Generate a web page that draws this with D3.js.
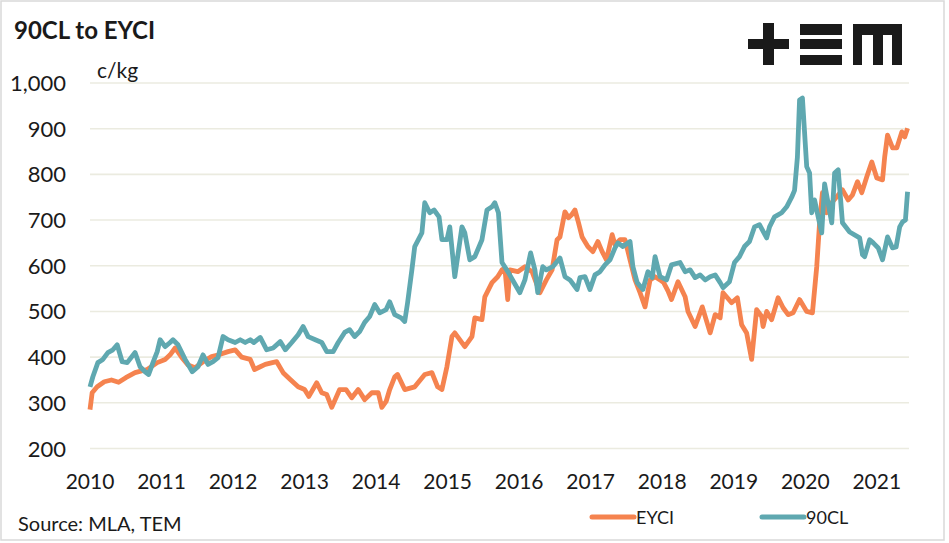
<!DOCTYPE html>
<html><head><meta charset="utf-8">
<script src="https://cdn.jsdelivr.net/npm/d3@7"></script>
<style>body{margin:0;background:#fff}svg{display:block}text{font-family:Lato,"Open Sans",sans-serif;fill:#1a1a1a}</style>
</head><body><svg id="c" width="949" height="543"></svg>
<script>
const yTicks = [200,300,400,500,600,700,800,900,1000];
const xTicks = [2010,2011,2012,2013,2014,2015,2016,2017,2018,2019,2020,2021];

const eyciDates = [2010.00,2010.03,2010.10,2010.20,2010.30,2010.40,2010.50,2010.63,2010.72,2010.80,2010.94,2011.05,2011.12,2011.19,2011.28,2011.37,2011.47,2011.60,2011.70,2011.80,2011.93,2012.03,2012.12,2012.24,2012.30,2012.38,2012.45,2012.55,2012.61,2012.70,2012.80,2012.91,2013.00,2013.06,2013.17,2013.24,2013.31,2013.38,2013.49,2013.58,2013.66,2013.75,2013.84,2013.94,2014.03,2014.08,2014.14,2014.19,2014.26,2014.30,2014.40,2014.54,2014.68,2014.78,2014.86,2014.92,2014.99,2015.06,2015.10,2015.24,2015.34,2015.38,2015.48,2015.52,2015.62,2015.70,2015.76,2015.80,2015.84,2015.87,2015.98,2016.08,2016.18,2016.29,2016.38,2016.46,2016.53,2016.57,2016.64,2016.69,2016.73,2016.78,2016.83,2016.88,2016.96,2017.03,2017.10,2017.16,2017.22,2017.30,2017.34,2017.41,2017.48,2017.55,2017.62,2017.69,2017.76,2017.83,2017.90,2017.97,2018.02,2018.08,2018.13,2018.22,2018.32,2018.36,2018.46,2018.56,2018.67,2018.74,2018.81,2018.85,2018.97,2019.05,2019.11,2019.18,2019.25,2019.32,2019.39,2019.41,2019.46,2019.53,2019.62,2019.69,2019.76,2019.83,2019.92,2020.02,2020.10,2020.16,2020.20,2020.24,2020.30,2020.37,2020.44,2020.52,2020.60,2020.66,2020.73,2020.79,2020.86,2020.93,2021.00,2021.08,2021.11,2021.15,2021.22,2021.28,2021.35,2021.39,2021.43];
const eyciValues = [285,322,335,346,350,345,355,366,370,373,388,395,405,420,400,383,377,392,401,405,412,416,400,395,373,379,384,388,390,366,351,335,329,314,344,322,318,290,329,329,311,329,307,322,322,290,303,329,357,362,329,335,362,366,335,329,379,445,453,423,445,486,482,532,563,576,591,595,526,591,587,598,587,541,569,591,657,663,718,705,711,722,694,663,642,631,653,631,613,668,646,657,657,613,569,541,510,569,576,569,563,545,526,565,532,500,467,510,453,493,486,541,519,530,471,453,395,504,489,467,500,482,530,508,493,497,526,500,497,598,694,760,716,738,751,766,744,755,784,760,795,827,792,788,838,886,858,858,893,882,901];

const cl90Dates = [2010.00,2010.04,2010.11,2010.18,2010.25,2010.32,2010.38,2010.45,2010.52,2010.63,2010.70,2010.77,2010.82,2010.88,2010.94,2010.98,2011.05,2011.12,2011.16,2011.23,2011.33,2011.43,2011.51,2011.58,2011.65,2011.72,2011.79,2011.86,2011.93,2012.03,2012.10,2012.17,2012.24,2012.29,2012.38,2012.47,2012.56,2012.66,2012.73,2012.82,2012.91,2012.98,2013.05,2013.15,2013.24,2013.31,2013.40,2013.47,2013.56,2013.63,2013.70,2013.77,2013.84,2013.91,2013.98,2014.05,2014.14,2014.19,2014.26,2014.35,2014.40,2014.44,2014.50,2014.54,2014.64,2014.68,2014.75,2014.81,2014.88,2014.92,2014.99,2015.03,2015.10,2015.20,2015.24,2015.31,2015.38,2015.48,2015.55,2015.62,2015.66,2015.71,2015.76,2015.85,2015.94,2016.01,2016.08,2016.16,2016.22,2016.26,2016.33,2016.38,2016.47,2016.57,2016.64,2016.71,2016.81,2016.85,2016.92,2016.99,2017.06,2017.13,2017.20,2017.27,2017.34,2017.38,2017.45,2017.55,2017.59,2017.65,2017.73,2017.80,2017.86,2017.90,2017.97,2018.06,2018.13,2018.25,2018.32,2018.39,2018.46,2018.53,2018.60,2018.67,2018.74,2018.81,2018.85,2018.94,2019.01,2019.08,2019.15,2019.22,2019.29,2019.36,2019.46,2019.50,2019.57,2019.67,2019.74,2019.81,2019.85,2019.89,2019.92,2019.96,2020.02,2020.06,2020.09,2020.13,2020.18,2020.23,2020.27,2020.37,2020.41,2020.46,2020.52,2020.62,2020.76,2020.80,2020.83,2020.90,2020.95,2021.02,2021.08,2021.15,2021.22,2021.27,2021.32,2021.36,2021.40,2021.43];
const cl90Values = [335,357,388,395,410,416,427,390,388,410,379,368,362,388,412,438,423,432,438,427,395,368,379,405,384,390,399,445,438,432,438,432,438,432,443,416,420,434,416,432,449,467,445,438,432,412,412,432,454,460,445,456,476,489,515,497,504,521,493,486,478,519,591,642,672,738,716,722,707,657,657,685,576,685,672,613,620,657,722,729,738,716,607,585,560,541,569,628,591,541,598,591,598,617,576,569,548,574,576,548,580,587,602,613,639,650,642,653,598,563,548,587,574,620,576,569,602,607,587,591,574,580,569,576,580,563,552,565,607,620,642,653,685,690,661,685,707,716,729,750,765,838,963,967,817,803,716,744,707,672,779,694,803,810,694,674,661,624,620,657,650,639,613,663,639,641,685,696,700,762];

const svg = d3.select('#c');
svg.append('rect').attr('x',1).attr('y',1).attr('width',943).attr('height',539)
  .attr('fill','#fff').attr('stroke','#d9d9d9').attr('stroke-width',1.5);

const x = d3.scaleLinear().domain([2010, 2021.45]).range([90, 909]);
const y = d3.scaleLinear().domain([200, 1000]).range([448.5, 83]);

// gridlines
svg.append('g').selectAll('line').data(yTicks).join('line')
  .attr('x1', 90).attr('x2', 909)
  .attr('y1', d => y(d)).attr('y2', d => y(d))
  .attr('stroke', '#ebebe0').attr('stroke-width', 1.6);

// y tick labels
svg.append('g').selectAll('text').data(yTicks).join('text')
  .attr('x', 66).attr('y', d => y(d) + 8)
  .attr('text-anchor', 'end').attr('font-size', 22)
  .text(d => d3.format(',')(d));

// x tick labels
svg.append('g').selectAll('text').data(xTicks).join('text')
  .attr('x', d => x(d)).attr('y', 489)
  .attr('text-anchor', 'middle').attr('font-size', 21)
  .text(d => d);

const line = d3.line().x(d => x(d[0])).y(d => y(d[1]));
const eyci = eyciDates.map((d,i) => [d, eyciValues[i]]);
const cl90 = cl90Dates.map((d,i) => [d, cl90Values[i]]);

const orange = '#f5834f', teal = '#5fa8b0';
svg.append('path').datum(eyci).attr('d', line).attr('fill','none')
  .attr('stroke', orange).attr('stroke-width', 4.8).attr('stroke-linejoin','round');
svg.append('path').datum(cl90).attr('d', line).attr('fill','none')
  .attr('stroke', teal).attr('stroke-width', 4.8).attr('stroke-linejoin','round');

// titles
svg.append('text').attr('x', 14).attr('y', 39).attr('font-size', 24).attr('font-weight', 'bold').text('90CL to EYCI');
svg.append('text').attr('x', 97).attr('y', 78).attr('font-size', 21).text('c/kg');
svg.append('text').attr('x', 18).attr('y', 531).attr('font-size', 20).text('Source: MLA, TEM');

// legend
const legend = [{name:'EYCI', color:orange, x:592},{name:'90CL', color:teal, x:762}];
const lg = svg.append('g').selectAll('g').data(legend).join('g');
lg.append('line').attr('x1', d => d.x).attr('x2', d => d.x + 42).attr('y1', 517).attr('y2', 517)
  .attr('stroke', d => d.color).attr('stroke-width', 5).attr('stroke-linecap','round');
lg.append('text').attr('x', d => d.x + 44).attr('y', 524).attr('font-size', 18).text(d => d.name);

// logo
const logo = svg.append('g').attr('fill', '#1a1a1a');
[[763,23,11,42],[748,39,41,10],[800,24,42,11],[800,39,42,10],[800,55,42,10],
 [853,24,49,11],[853,24,9,41],[873,24,10,41],[892,24,10,41]].forEach(r =>
  logo.append('rect').attr('x', r[0]).attr('y', r[1]).attr('width', r[2]).attr('height', r[3]));
</script></body></html>
